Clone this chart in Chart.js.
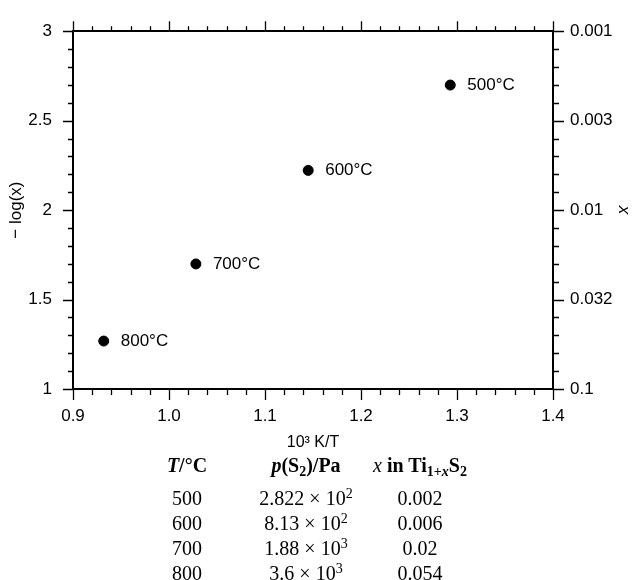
<!DOCTYPE html>
<html>
<head>
<meta charset="utf-8">
<script src="https://cdn.jsdelivr.net/npm/chart.js@4.4.0/dist/chart.umd.min.js"></script>
<style>
  html, body { margin: 0; padding: 0; background: #fff; }
  #wrap { position: relative; width: 634px; height: 580px; overflow: hidden; }
  #plot { position: absolute; left: 0; top: 0; }
  .cell {
    position: absolute; width: 240px; text-align: center; white-space: nowrap;
    font-family: "Liberation Serif", "Times New Roman", Times, serif;
    font-size: 20px; line-height: 24px; color: #000;
  }
  .b { font-weight: bold; }
  .sub { font-size: 0.7em; position: relative; top: 0.28em; }
  .sup { font-size: 0.7em; position: relative; top: -0.5em; }
</style>
</head>
<body>
<div id="wrap">
  <canvas id="plot" width="634" height="460"></canvas>
  <div id="table"></div>
</div>
<script>
// Measurements: Ti(1+x)S2 composition vs. temperature
const temperatures = [500, 600, 700, 800];           // °C
const inverseT = [1.293, 1.145, 1.028, 0.932];       // 10^3 K / T
const negLogX = [2.699, 2.222, 1.699, 1.268];        // -log(x)
const pressureMantissa = ['2.822', '8.13', '1.88', '3.6'];
const pressureExponent = [2, 2, 3, 3];               // p(S2) = mantissa × 10^exp Pa
const xFraction = ['0.002', '0.006', '0.02', '0.054'];

// Axis ticks
const xTickValues = [0.9, 1.0, 1.1, 1.2, 1.3, 1.4];
const xTickLabels = ['0.9', '1.0', '1.1', '1.2', '1.3', '1.4'];
const yTickValues = [1, 1.5, 2, 2.5, 3];
const yTickLabels = ['1', '1.5', '2', '2.5', '3'];
const xScaleTickLabels = ['0.1', '0.032', '0.01', '0.003', '0.001'];

Chart.defaults.font.family = '"Liberation Sans", Arial, Helvetica, sans-serif';
Chart.defaults.font.size = 17;
Chart.defaults.color = '#000';

// Outward tick marks on all four sides: long at labelled values, short between
const tickMarks = {
  id: 'tickMarks',
  afterDraw(chart) {
    const ctx = chart.ctx, a = chart.chartArea;
    const sx = chart.scales.x, sy = chart.scales.y;
    ctx.save();
    ctx.strokeStyle = '#000';
    ctx.lineWidth = 1.3;
    ctx.beginPath();
    for (let k = 0; k <= 25; k++) {
      const px = Math.round(sx.getPixelForValue(0.9 + k * 0.02)) + 0.5;
      const len = k % 5 === 0 ? 10 : 5;
      ctx.moveTo(px, a.bottom); ctx.lineTo(px, a.bottom + len + 1);
      ctx.moveTo(px, a.top); ctx.lineTo(px, a.top - len);
    }
    for (let k = 0; k <= 20; k++) {
      const py = Math.round(sy.getPixelForValue(1 + k * 0.1)) + 0.5;
      const len = k % 5 === 0 ? 10 : 5;
      ctx.moveTo(a.left, py); ctx.lineTo(a.left - len, py);
      ctx.moveTo(a.right, py); ctx.lineTo(a.right + len + 1, py);
    }
    ctx.stroke();
    ctx.restore();
  }
};

// Temperature labels beside each point
const pointLabels = {
  id: 'pointLabels',
  afterDatasetsDraw(chart) {
    const ctx = chart.ctx;
    const pts = chart.getDatasetMeta(0).data;
    ctx.save();
    ctx.fillStyle = '#000';
    ctx.font = '17px "Liberation Sans", Arial, sans-serif';
    ctx.textAlign = 'left';
    ctx.textBaseline = 'middle';
    pts.forEach((p, i) => ctx.fillText(temperatures[i] + '°C', p.x + 17, p.y));
    ctx.restore();
  }
};

const fixedTicks = values => scale => { scale.ticks = values.map(v => ({ value: v })); };
const noGrid = { display: false, drawTicks: false, tickLength: 0 };
const frame = { display: true, width: 2, color: '#000' };

new Chart(document.getElementById('plot'), {
  type: 'scatter',
  data: {
    datasets: [{
      data: inverseT.map((v, i) => ({ x: v, y: negLogX[i] })),
      backgroundColor: '#000',
      borderColor: '#000',
      pointRadius: 5,
      pointHoverRadius: 5,
      showLine: false
    }]
  },
  options: {
    responsive: false,
    devicePixelRatio: 1,
    animation: false,
    layout: { padding: 0 },
    plugins: { legend: { display: false }, tooltip: { enabled: false } },
    scales: {
      x: {
        type: 'linear', position: 'bottom', min: 0.9, max: 1.4,
        afterBuildTicks: fixedTicks(xTickValues),
        ticks: { padding: 17, callback: (v, i) => xTickLabels[i], maxRotation: 0 },
        grid: noGrid, border: frame,
        title: { display: true, text: '10³ K/T', font: { size: 16 }, padding: { top: 0, bottom: 8 } },
        afterFit: s => { s.height = 71; }
      },
      xTop: {
        type: 'linear', position: 'top', min: 0.9, max: 1.4,
        ticks: { display: false },
        grid: noGrid, border: frame,
        afterFit: s => { s.height = 20; }
      },
      y: {
        type: 'linear', position: 'left', min: 1, max: 3,
        afterBuildTicks: fixedTicks(yTickValues),
        ticks: { padding: 21, callback: (v, i) => yTickLabels[i] },
        grid: noGrid, border: frame,
        title: { display: true, text: '− log(x)', font: { size: 17 }, padding: { top: 6, bottom: 0 } },
        afterFit: s => { s.width = 73; }
      },
      yRight: {
        type: 'linear', position: 'right', min: 1, max: 3,
        afterBuildTicks: fixedTicks(yTickValues),
        ticks: { padding: 17, callback: (v, i) => xScaleTickLabels[i] },
        grid: noGrid, border: frame,
        title: { display: true, text: 'x', font: { size: 17, style: 'italic' }, padding: { top: 0, bottom: 0 } },
        afterFit: s => { s.width = 81; }
      }
    }
  },
  plugins: [tickMarks, pointLabels]
});

// Data table below the plot
const table = document.getElementById('table');
const colCenters = [187, 306, 420];
function cell(html, cx, cy) {
  const d = document.createElement('div');
  d.className = 'cell';
  d.style.left = (cx - 120) + 'px';
  d.style.top = (cy - 12) + 'px';
  d.innerHTML = html;
  table.appendChild(d);
}
cell('<span class="b"><i>T</i>/°C</span>', colCenters[0], 465);
cell('<span class="b"><i>p</i>(S<span class="sub">2</span>)/Pa</span>', colCenters[1], 465);
cell('<i>x</i> <span class="b">in Ti<span class="sub">1+<i>x</i></span>S<span class="sub">2</span></span>', colCenters[2], 465);
temperatures.forEach((t, i) => {
  const cy = 498 + 25 * i;
  cell(String(t), colCenters[0], cy);
  cell(pressureMantissa[i] + ' × 10<span class="sup">' + pressureExponent[i] + '</span>', colCenters[1], cy);
  cell(xFraction[i], colCenters[2], cy);
});
</script>
</body>
</html>
